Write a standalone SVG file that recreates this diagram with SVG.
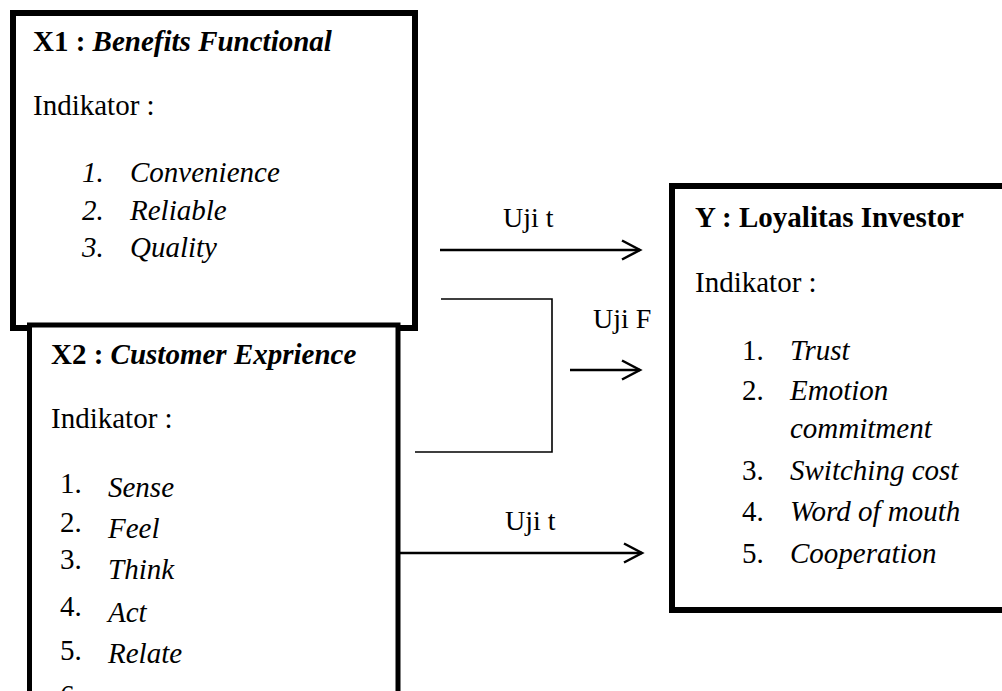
<svg xmlns="http://www.w3.org/2000/svg" width="1002" height="691" viewBox="0 0 1002 691">
<style>
text{font-family:"Liberation Serif","Times New Roman",serif;font-size:29px;fill:#000}
.b{font-weight:bold}
.i{font-style:italic}
.box{fill:#fff;stroke:#000}
.lbl{font-size:28px}
.arr{stroke:#000;stroke-width:2.5;fill:none}
.br{stroke:#000;stroke-width:1.6;fill:none}
</style>
<g id="connectors">
<line class="arr" x1="440" y1="250" x2="640" y2="250"/>
<polyline class="arr" points="622,240.5 640,250 622,259.5"/>
<text class="lbl" x="503" y="227">Uji t</text>
<polyline class="br" points="441,299 552,299 552,452 415,452"/>
<line class="arr" x1="570" y1="370" x2="640" y2="370"/>
<polyline class="arr" points="622,360.5 640,370 622,379.5"/>
<text class="lbl" x="593" y="328">Uji F</text>
<line class="arr" x1="400" y1="553" x2="642" y2="553"/>
<polyline class="arr" points="624,543.5 642,553 624,562.5"/>
<text class="lbl" x="505" y="530">Uji t</text>
</g>
<g id="x1">
<rect class="box" x="13" y="13" width="402" height="315" stroke-width="6"/>
<text x="33" y="51"><tspan class="b">X1 : </tspan><tspan class="b i">Benefits Functional</tspan></text>
<text x="33" y="115">Indikator :</text>
<text class="i" x="82" y="182">1.</text><text class="i" x="130" y="182">Convenience</text>
<text class="i" x="82" y="220">2.</text><text class="i" x="130" y="220">Reliable</text>
<text class="i" x="82" y="257">3.</text><text class="i" x="130" y="257">Quality</text>
</g>
<g id="x2">
<rect class="box" x="29.5" y="325" width="368.5" height="420" stroke-width="5"/>
<text x="51" y="364"><tspan class="b">X2 : </tspan><tspan class="b i">Customer Exprience</tspan></text>
<text x="51" y="428">Indikator :</text>
<text x="60" y="493">1.</text><text class="i" x="108" y="497">Sense</text>
<text x="60" y="532">2.</text><text class="i" x="108" y="538">Feel</text>
<text x="60" y="569">3.</text><text class="i" x="108" y="579">Think</text>
<text x="60" y="616">4.</text><text class="i" x="108" y="622">Act</text>
<text x="60" y="660">5.</text><text class="i" x="108" y="663">Relate</text>
<text x="60" y="705">6.</text>
</g>
<g id="y">
<rect class="box" x="672" y="186" width="400" height="424" stroke-width="6"/>
<text class="b" x="695" y="227">Y : Loyalitas Investor</text>
<text x="695" y="292">Indikator :</text>
<text x="742" y="360">1.</text><text class="i" x="790" y="360">Trust</text>
<text x="742" y="400">2.</text><text class="i" x="790" y="400">Emotion</text>
<text class="i" x="790" y="438">commitment</text>
<text x="742" y="480">3.</text><text class="i" x="790" y="480">Switching cost</text>
<text x="742" y="521">4.</text><text class="i" x="790" y="521">Word of mouth</text>
<text x="742" y="563">5.</text><text class="i" x="790" y="563">Cooperation</text>
</g>
</svg>
